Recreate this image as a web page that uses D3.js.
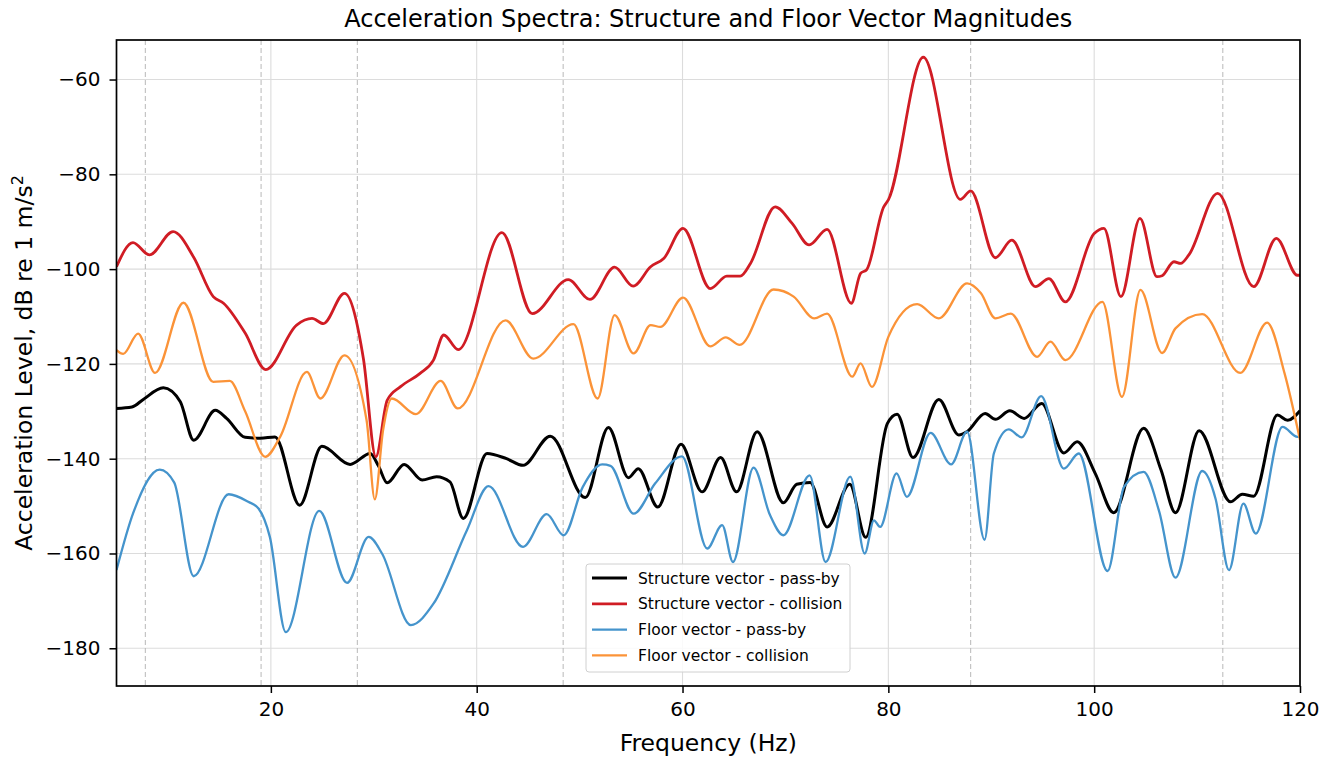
<!DOCTYPE html>
<html><head><meta charset="utf-8">
<script src="https://cdn.jsdelivr.net/npm/d3@7"></script>
<style>body{margin:0;background:#fff;} svg{display:block;font-family:"DejaVu Sans",sans-serif;}</style>
</head><body><svg id="c" width="1332" height="757"></svg>
<script>
const xTicks = [20, 40, 60, 80, 100, 120];
const yTicks = [-60, -80, -100, -120, -140, -160, -180];
const markerFreqs = [7.8, 19.05, 28.4, 48.4, 88.0, 112.5];

const structPassF = [5,6.5,7.6,9.55,11.2,12.5,14.6,15.7,17.5,19.0,20.4,22.8,24.95,27.7,29.65,30.45,31.3,32.95,34.7,36.1,37.4,38.7,41.0,42.9,44.5,47.15,50.55,52.8,54.75,55.7,57.6,59.85,61.9,63.7,65.25,67.25,69.8,71.1,72.4,74.05,76.25,77.8,79.9,80.85,82.4,84.9,86.85,87.65,89.4,90.4,91.8,93.2,94.9,97.05,98.35,100.1,101.9,104.8,106.5,107.9,110.2,113.25,114.4,115.5,117.8,118.8,120];
const structPassDb = [-129.4,-129.1,-127.5,-125.05,-128.0,-136.1,-129.8,-131.5,-135.5,-135.7,-135.4,-149.8,-137.4,-141.2,-138.9,-141.5,-145.1,-141.2,-144.5,-143.8,-144.9,-152.6,-138.9,-140.0,-141.4,-135.25,-148.2,-133.4,-144.0,-142.1,-150.2,-136.95,-147.0,-139.75,-147.0,-134.3,-149.3,-145.4,-145.0,-154.4,-145.4,-156.6,-132.6,-130.6,-139.75,-127.5,-135.0,-134.3,-130.45,-131.7,-129.9,-131.5,-128.35,-138.8,-136.45,-143.1,-151.4,-133.6,-142.4,-151.4,-134.1,-149.1,-147.5,-147.9,-130.8,-131.9,-129.9];

const structColF = [5,6.6,8.2,10.5,12.5,14.4,15.4,17.5,19.5,22.5,24.0,25.1,27.15,29.0,30.2,31.3,32.6,34.5,35.8,36.8,38.2,42.45,45.4,48.9,51.0,53.4,55.2,56.9,58.2,60.05,62.7,64.3,65.6,66.6,69.0,70.65,72.3,74.05,76.4,77.3,77.9,79.55,80.0,83.4,87.0,88.0,90.4,92.0,94.3,95.6,97.2,100.0,100.95,102.6,104.45,106.1,106.6,107.75,108.4,109.2,112.0,115.5,117.7,119.75,120];
const structColDb = [-99.5,-94.4,-97.0,-92.1,-97.5,-105.8,-107.2,-113.5,-121.2,-111.8,-110.4,-111.5,-105.1,-119.0,-139.6,-127.7,-124.8,-122.0,-119.2,-113.9,-117.0,-92.3,-109.4,-102.2,-106.4,-99.6,-103.6,-99.5,-97.7,-91.4,-104.1,-101.5,-101.5,-98.8,-86.85,-90.35,-94.9,-91.6,-107.2,-100.9,-100.1,-86.85,-85.4,-55.3,-85.3,-83.5,-97.6,-93.9,-103.7,-102.0,-106.9,-92.5,-91.4,-105.8,-89.3,-101.6,-101.4,-98.45,-98.8,-97.0,-84.0,-103.7,-93.5,-101.3,-101.3];

const floorPassF = [5,6.6,9.2,10.6,12.5,15.9,17.8,18.8,19.9,21.45,24.7,27.4,29.5,30.8,33.6,35.8,39.05,41.15,44.5,46.8,48.45,50.3,52.2,53.0,55.25,57.35,59.95,62.4,63.85,64.9,66.9,68.5,69.8,72.35,73.9,76.3,77.7,78.6,79.2,80.8,81.8,84.1,86.1,87.65,89.35,90.25,91.7,92.95,94.85,97.05,98.5,101.3,102.9,104.8,106.3,107.9,110.5,111.8,113.1,114.5,115.7,118.3,119.75,120];
const floorPassDb = [-163.5,-151.6,-142.3,-145.0,-164.8,-147.5,-149.1,-150.5,-156.5,-176.6,-151.0,-166.2,-156.5,-160.0,-175.1,-170.6,-155.1,-145.8,-158.6,-151.7,-156.15,-146.0,-141.2,-141.5,-151.6,-145.2,-139.5,-158.95,-154.0,-161.8,-141.9,-151.9,-156.15,-143.5,-161.8,-143.8,-160.0,-153.0,-154.4,-143.1,-148.05,-134.55,-141.2,-134.3,-157.1,-138.9,-133.8,-135.5,-126.8,-142.1,-138.9,-163.7,-145.95,-142.8,-151.0,-165.1,-142.6,-148.5,-163.5,-149.5,-155.8,-133.3,-135.4,-135.4];

const floorColF = [5,5.65,7.1,8.75,11.5,14.4,16.0,17.5,19.45,20.9,23.5,24.8,27.15,29.3,30.1,30.9,31.75,34.1,36.5,38.15,42.8,45.5,49.4,51.75,53.4,55.25,56.9,57.85,60.05,62.7,64.2,65.55,68.85,70.8,72.8,74.05,76.5,77.3,78.4,80.0,82.8,84.9,87.65,89.0,90.4,91.9,94.45,95.75,97.2,100.8,102.7,104.5,106.6,107.9,110.5,114.2,116.8,118.5,120];
const floorColDb = [-117.1,-117.9,-113.6,-121.9,-107.1,-123.8,-123.6,-130.0,-139.6,-135.4,-121.7,-127.3,-118.2,-131.9,-148.6,-134.0,-127.3,-130.6,-123.6,-129.4,-110.8,-118.9,-111.6,-127.3,-109.7,-117.8,-111.8,-112.2,-106.0,-116.3,-114.4,-116.0,-104.3,-105.8,-110.4,-109.4,-122.7,-119.9,-124.85,-114.3,-107.4,-110.4,-103.0,-105.1,-110.4,-109.4,-118.5,-115.3,-119.2,-106.9,-126.96,-104.4,-117.7,-112.5,-109.5,-121.9,-111.3,-122.0,-136.0];

const seriesNames = ["Structure vector - pass-by","Structure vector - collision","Floor vector - pass-by","Floor vector - collision"];
const seriesColors = ["#000000","#d01c24","#4594cc","#fb9338"];
const seriesWidths = [3.0,2.8,2.3,2.3];
const seriesF = [structPassF, structColF, floorPassF, floorColF];
const seriesDb = [structPassDb, structColDb, floorPassDb, floorColDb];

const svg = d3.select("#c");
const L = 116.5, R = 1300, T = 40, B = 686;
const x = d3.scaleLinear().domain([5,120]).range([L,R]);
const y = d3.scaleLinear().domain([-187.96,-51.66]).range([B,T]);

// grid
const g = svg.append("g");
g.selectAll(".gx").data(xTicks).join("line")
  .attr("x1",d=>x(d)).attr("x2",d=>x(d)).attr("y1",T).attr("y2",B)
  .attr("stroke","#dcdcdc").attr("stroke-width",1.1);
g.selectAll(".gy").data(yTicks).join("line")
  .attr("x1",L).attr("x2",R).attr("y1",d=>y(d)).attr("y2",d=>y(d))
  .attr("stroke","#dcdcdc").attr("stroke-width",1.1);
g.selectAll(".mk").data(markerFreqs).join("line")
  .attr("x1",d=>x(d)).attr("x2",d=>x(d)).attr("y1",T).attr("y2",B)
  .attr("stroke","#b8b8b8").attr("stroke-width",1).attr("stroke-dasharray","5,3");

// lines
svg.append("clipPath").attr("id","cp").append("rect")
  .attr("x",L).attr("y",T).attr("width",R-L).attr("height",B-T);
const line = d3.line().curve(d3.curveMonotoneX);
const lg = svg.append("g").attr("clip-path","url(#cp)");
seriesF.forEach((fs,i)=>{
  const pts = fs.map((f,j)=>[x(f), y(seriesDb[i][j])]);
  lg.append("path").attr("d",line(pts)).attr("fill","none")
    .attr("stroke",seriesColors[i]).attr("stroke-width",seriesWidths[i])
    .attr("stroke-linejoin","round");
});

// axes
const fmt = d=>String(d).replace("-","\u2212");
const xa = svg.append("g").attr("transform",`translate(0,${B})`)
  .call(d3.axisBottom(x).tickValues(xTicks).tickSize(7).tickPadding(9).tickFormat(fmt));
const ya = svg.append("g").attr("transform",`translate(${L},0)`)
  .call(d3.axisLeft(y).tickValues(yTicks).tickSize(7).tickPadding(9).tickFormat(fmt));
[xa,ya].forEach(a=>{
  a.select(".domain").remove();
  a.selectAll("line").attr("stroke","#000").attr("stroke-width",1.5);
  a.selectAll("text").attr("font-size",20).attr("fill","#000").attr("font-family","DejaVu Sans");
});
svg.append("rect").attr("x",L).attr("y",T).attr("width",R-L).attr("height",B-T)
  .attr("fill","none").attr("stroke","#000").attr("stroke-width",1.7);

// titles
svg.append("text").attr("x",(L+R)/2).attr("y",27).attr("text-anchor","middle")
  .attr("font-size",24).text("Acceleration Spectra: Structure and Floor Vector Magnitudes");
svg.append("text").attr("x",(L+R)/2).attr("y",751).attr("text-anchor","middle")
  .attr("font-size",23.5).text("Frequency (Hz)");
const yl = svg.append("text").attr("transform",`translate(32,${(T+B)/2}) rotate(-90)`)
  .attr("text-anchor","middle").attr("font-size",23.5);
yl.append("tspan").text("Acceleration Level, dB re 1 m/s");
yl.append("tspan").attr("dy",-9).attr("font-size",16).text("2");

// legend
const lgX = 586, lgY = 564;
const leg = svg.append("g");
leg.append("rect").attr("x",lgX).attr("y",lgY).attr("width",264).attr("height",108).attr("rx",3)
  .attr("fill","#fff").attr("fill-opacity",0.85).attr("stroke","#d0d0d0").attr("stroke-width",1);
seriesNames.forEach((n,i)=>{
  const yy = lgY + 14 + i*25.8;
  leg.append("line").attr("x1",lgX+6).attr("x2",lgX+41).attr("y1",yy).attr("y2",yy)
    .attr("stroke",seriesColors[i]).attr("stroke-width",seriesWidths[i]);
  leg.append("text").attr("x",lgX+52).attr("y",yy+5.5).attr("font-size",15.5).text(n);
});
</script></body></html>
